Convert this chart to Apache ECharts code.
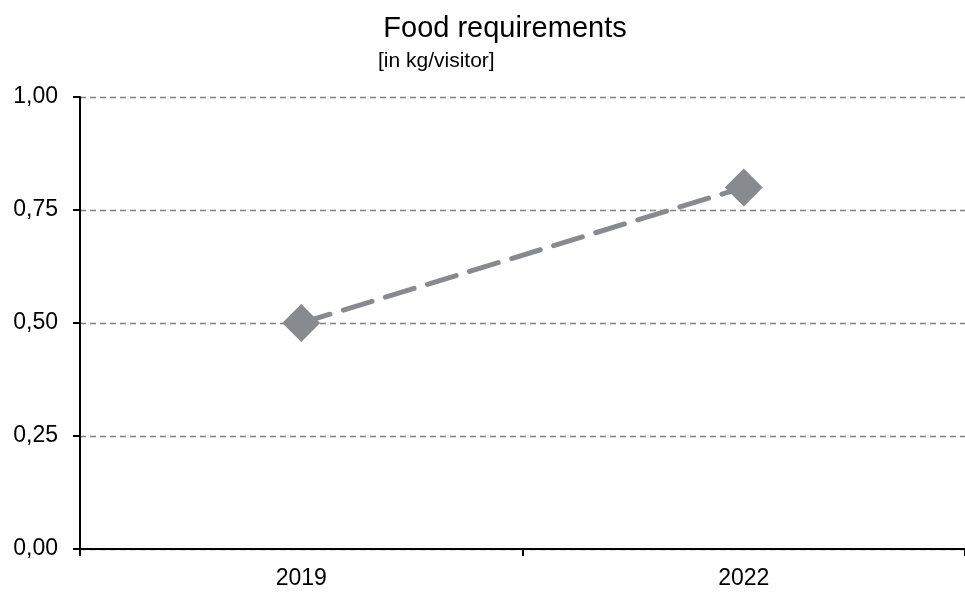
<!DOCTYPE html>
<html><head><meta charset="utf-8">
<script src="https://cdn.jsdelivr.net/npm/echarts@6/dist/echarts.min.js"></script>
<style>html,body{margin:0;padding:0;background:#fff}#c{width:965px;height:596px}</style>
</head><body><div id="c"></div>
<script>
const categories = ['2019', '2022'];
const values = [0.50, 0.80];
const yTicks = [0, 0.25, 0.5, 0.75, 1];

const chart = echarts.init(document.getElementById('c'));
const fmt = v => v.toFixed(2).replace('.', ',');
chart.setOption({
  animation: false,
  title: [
    {text: 'Food requirements', left: 500, top: 9, textAlign: 'center',
     textStyle: {fontFamily: 'Liberation Sans, Arial', fontSize: 29, fontWeight: 'normal', color: '#000'}},
    {text: '[in kg/visitor]', left: 373, top: 46,
     textStyle: {fontFamily: 'Liberation Sans, Arial', fontSize: 21, fontWeight: 'normal', color: '#000'}}
  ],
  grid: {left: 80, right: 0, top: 97, bottom: 47, containLabel: false},
  xAxis: {
    type: 'category', data: categories, boundaryGap: true,
    axisLine: {lineStyle: {color: '#000', width: 2}},
    axisTick: {show: true, length: 7, inside: false, alignWithLabel: false, lineStyle: {color: '#000', width: 2}},
    axisLabel: {fontFamily: 'Liberation Sans, Arial', fontSize: 23, color: '#000', margin: 18},
    splitLine: {show: false}
  },
  yAxis: {
    type: 'value', min: 0, max: 1, interval: 0.25,
    axisLine: {show: true, lineStyle: {color: '#000', width: 2}},
    axisTick: {show: true, length: 7, lineStyle: {color: '#000', width: 2}},
    axisLabel: {fontFamily: 'Liberation Sans, Arial', fontSize: 23, color: '#000', margin: 22,
      formatter: v => fmt(v)},
    splitLine: {show: true, lineStyle: {color: '#808080', width: 1.3, type: [6, 4]}}
  },
  series: [{
    type: 'line', data: values,
    symbol: 'diamond', symbolSize: [38, 38],
    itemStyle: {color: '#878b8f'},
    lineStyle: {color: '#878b8f', width: 5, type: [30, 14], cap: 'round'},
    z: 5
  }]
});
</script></body></html>
